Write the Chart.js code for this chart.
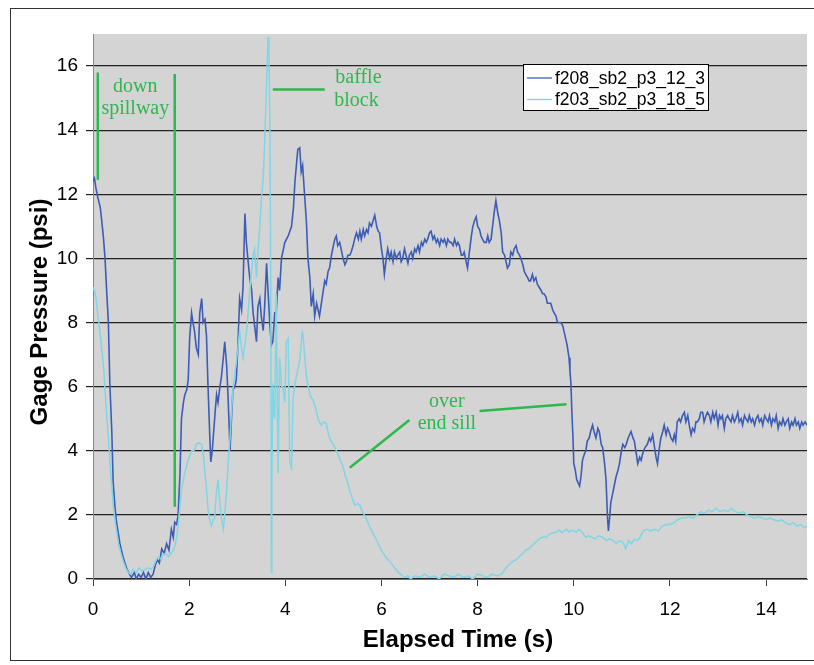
<!DOCTYPE html>
<html><head><meta charset="utf-8">
<script src="https://cdn.jsdelivr.net/npm/chart.js@4.4.1/dist/chart.umd.min.js"></script>
<style>html,body{margin:0;padding:0;background:#fff}#wrap{width:814px;height:665px;position:relative}</style>
</head><body><div id="wrap"><canvas id="c" width="814" height="665"></canvas></div>
<script>
const seriesNames = ['f208_sb2_p3_12_3', 'f203_sb2_p3_18_5'];
const xTitle = 'Elapsed Time (s)';
const yTitle = 'Gage Pressure (psi)';

const timeA = [0.00,0.03,0.06,0.10,0.15,0.18,0.22,0.25,0.28,0.32,0.35,0.39,0.42,0.46,0.49,0.56,0.63,0.70,0.76,0.80,0.86,0.90,0.95,1.00,1.05,1.10,1.15,1.20,1.25,1.30,1.34,1.38,1.43,1.48,1.53,1.58,1.63,1.67,1.70,1.74,1.77,1.81,1.84,1.88,1.91,1.95,1.98,2.01,2.05,2.08,2.11,2.15,2.19,2.22,2.26,2.29,2.33,2.36,2.39,2.43,2.45,2.48,2.50,2.54,2.57,2.60,2.64,2.67,2.71,2.74,2.78,2.81,2.85,2.88,2.91,2.95,2.98,3.02,3.05,3.09,3.12,3.16,3.19,3.22,3.26,3.30,3.33,3.37,3.40,3.43,3.47,3.50,3.54,3.57,3.61,3.64,3.68,3.71,3.74,3.78,3.81,3.85,3.88,3.92,3.99,4.06,4.13,4.17,4.20,4.23,4.26,4.30,4.33,4.36,4.40,4.44,4.47,4.51,4.54,4.58,4.61,4.65,4.68,4.71,4.75,4.78,4.82,4.85,4.89,4.92,4.96,5.00,5.03,5.06,5.09,5.13,5.16,5.20,5.24,5.27,5.30,5.34,5.37,5.41,5.44,5.48,5.52,5.55,5.58,5.62,5.65,5.69,5.72,5.75,5.79,5.83,5.86,5.90,5.93,5.96,6.00,6.03,6.06,6.10,6.13,6.17,6.20,6.24,6.27,6.31,6.34,6.38,6.41,6.44,6.48,6.51,6.55,6.58,6.62,6.65,6.69,6.72,6.76,6.79,6.83,6.86,6.90,6.93,6.96,7.00,7.03,7.07,7.10,7.14,7.17,7.21,7.24,7.28,7.31,7.35,7.38,7.42,7.45,7.49,7.52,7.56,7.59,7.62,7.66,7.69,7.72,7.76,7.79,7.82,7.87,7.90,7.94,7.97,8.00,8.04,8.07,8.10,8.14,8.18,8.21,8.24,8.28,8.31,8.35,8.38,8.42,8.45,8.49,8.52,8.56,8.59,8.62,8.66,8.69,8.73,8.76,8.80,8.83,8.87,8.90,8.94,8.97,9.00,9.04,9.07,9.10,9.14,9.17,9.21,9.24,9.28,9.32,9.35,9.38,9.42,9.45,9.49,9.52,9.56,9.59,9.63,9.66,9.70,9.73,9.77,9.80,9.83,9.86,9.90,9.92,9.94,9.96,9.98,10.00,10.03,10.06,10.09,10.12,10.15,10.18,10.22,10.25,10.28,10.32,10.35,10.39,10.42,10.46,10.50,10.53,10.57,10.60,10.64,10.67,10.70,10.72,10.75,10.77,10.80,10.84,10.88,10.92,10.95,10.99,11.02,11.06,11.09,11.13,11.16,11.19,11.23,11.26,11.30,11.33,11.37,11.40,11.44,11.48,11.53,11.57,11.60,11.64,11.68,11.71,11.74,11.78,11.81,11.85,11.88,11.92,11.95,11.98,12.02,12.06,12.09,12.12,12.15,12.19,12.22,12.26,12.30,12.33,12.37,12.40,12.44,12.47,12.51,12.54,12.57,12.61,12.64,12.68,12.71,12.75,12.78,12.82,12.85,12.89,12.92,12.96,13.00,13.03,13.06,13.09,13.13,13.16,13.20,13.23,13.27,13.30,13.34,13.37,13.41,13.44,13.48,13.51,13.55,13.58,13.62,13.65,13.69,13.72,13.76,13.79,13.83,13.86,13.90,13.93,13.97,14.00,14.04,14.07,14.11,14.14,14.18,14.21,14.25,14.28,14.32,14.35,14.39,14.42,14.46,14.49,14.53,14.56,14.60,14.63,14.67,14.70,14.74,14.77,14.81,14.85];
const pressureA = [12.4,12.5,12.2,11.9,11.6,11.2,10.6,10.0,9.1,8.0,6.1,4.65,3.0,2.2,1.77,1.1,0.66,0.33,0.15,0.05,0.2,0.0,0.15,0.05,0.2,0.0,0.2,0.05,0.15,0.45,0.6,0.5,0.94,0.8,1.1,0.9,1.55,1.3,1.77,1.7,2.0,3.3,5.0,5.5,5.75,5.9,6.2,7.5,8.3,8.0,7.75,7.2,7.0,8.3,8.75,8.0,8.1,7.6,6.1,4.4,3.65,4.0,4.4,5.2,5.75,5.5,6.0,6.3,6.9,7.4,6.65,5.65,4.0,5.0,5.9,6.0,6.2,7.5,8.75,8.4,9.1,11.4,10.5,10.0,9.4,9.0,8.3,7.8,7.4,8.5,8.75,8.2,7.75,8.5,9.85,9.0,7.9,7.3,7.4,8.3,8.3,9.4,9.0,10.0,10.5,10.7,11.0,11.6,12.4,12.9,13.4,13.45,12.7,12.9,12.0,11.1,10.0,9.4,8.5,8.9,8.2,8.6,8.4,8.2,8.6,8.9,9.3,9.2,9.6,9.7,10.1,10.4,10.6,10.7,10.4,10.5,10.3,10.0,9.8,9.9,10.1,10.1,10.2,10.4,10.6,10.8,10.6,10.85,10.6,10.9,10.7,10.9,10.8,11.1,11.0,11.2,11.35,11.0,10.85,10.8,10.3,10.0,9.5,10.0,10.3,10.0,10.2,9.9,10.2,10.0,10.1,10.2,9.9,10.0,10.3,10.1,9.85,10.1,10.2,10.0,10.3,10.2,10.4,10.2,10.5,10.4,10.6,10.5,10.6,10.8,10.85,10.6,10.7,10.5,10.6,10.4,10.6,10.5,10.6,10.4,10.6,10.5,10.5,10.4,10.6,10.4,10.5,10.4,10.1,10.1,10.2,9.9,9.7,10.1,10.7,11.0,11.2,11.3,11.0,10.9,10.7,10.6,10.5,10.5,10.7,10.5,10.6,11.0,11.5,11.8,11.4,11.2,10.8,10.2,10.1,9.9,9.7,9.8,10.2,10.1,10.3,10.4,10.2,10.1,10.0,9.8,9.6,9.5,9.4,9.3,9.3,9.5,9.3,9.4,9.2,9.1,9.0,8.9,8.9,8.8,8.6,8.6,8.6,8.4,8.3,8.2,8.0,8.0,8.0,7.9,7.7,7.5,7.3,6.9,6.5,6.1,5.2,4.5,3.6,3.4,3.1,3.0,2.9,3.2,3.7,3.9,4.0,4.3,4.4,4.6,4.8,4.6,4.4,4.7,4.6,4.2,4.1,3.6,3.1,1.94,1.5,2.0,2.4,2.6,2.9,3.2,3.4,3.6,4.0,4.2,4.1,4.2,4.4,4.5,4.6,4.4,4.3,3.9,3.6,3.8,3.7,3.95,4.1,4.2,4.4,4.3,4.5,4.1,3.8,3.6,4.1,4.4,4.6,4.8,4.5,4.7,4.6,4.4,4.3,4.5,4.3,4.9,5.0,4.9,5.1,5.2,4.9,5.1,4.8,4.5,4.7,4.6,4.9,4.9,5.0,5.2,5.2,4.9,5.1,5.2,5.1,4.9,5.2,5.0,5.2,4.8,5.1,5.0,5.1,4.7,5.0,5.1,5.0,4.9,5.1,4.9,5.0,5.2,4.9,5.0,4.8,5.1,5.0,4.9,5.1,4.9,5.0,4.8,5.0,5.1,4.9,5.0,4.8,5.1,5.0,4.9,5.1,4.8,5.0,4.9,5.1,4.7,4.9,4.8,5.0,4.8,4.9,5.0,4.7,4.9,4.8,5.0,4.8,4.9,4.7,4.9,4.8,4.9,4.8];

const timeB = [0.00,0.03,0.06,0.08,0.12,0.15,0.18,0.22,0.25,0.28,0.32,0.35,0.39,0.42,0.46,0.50,0.53,0.58,0.63,0.68,0.73,0.78,0.84,0.90,0.96,1.02,1.08,1.14,1.20,1.26,1.30,1.34,1.38,1.42,1.46,1.52,1.57,1.63,1.67,1.70,1.74,1.77,1.81,1.84,1.88,1.91,1.95,2.00,2.05,2.10,2.15,2.21,2.26,2.30,2.33,2.36,2.39,2.42,2.46,2.49,2.53,2.56,2.60,2.63,2.67,2.71,2.74,2.78,2.81,2.85,2.88,2.91,2.95,2.98,3.02,3.05,3.09,3.12,3.16,3.19,3.22,3.26,3.30,3.33,3.36,3.40,3.43,3.47,3.50,3.54,3.57,3.61,3.64,3.66,3.68,3.70,3.71,3.72,3.74,3.76,3.78,3.80,3.81,3.83,3.85,3.88,3.90,3.92,3.95,3.99,4.02,4.06,4.09,4.12,4.13,4.16,4.20,4.23,4.27,4.30,4.35,4.37,4.40,4.44,4.48,4.52,4.57,4.62,4.68,4.71,4.75,4.80,4.85,4.90,4.95,5.00,5.06,5.12,5.20,5.25,5.30,5.35,5.41,5.45,5.50,5.55,5.60,5.68,5.75,5.82,5.90,6.00,6.08,6.17,6.25,6.34,6.42,6.48,6.55,6.60,6.70,6.80,6.90,7.00,7.10,7.20,7.30,7.40,7.50,7.60,7.70,7.80,7.90,8.00,8.10,8.20,8.30,8.40,8.50,8.59,8.66,8.73,8.80,8.87,8.94,9.00,9.07,9.14,9.21,9.28,9.35,9.42,9.50,9.56,9.63,9.70,9.75,9.80,9.85,9.90,9.95,10.00,10.05,10.10,10.15,10.20,10.25,10.30,10.38,10.45,10.52,10.60,10.68,10.75,10.82,10.88,10.95,11.02,11.08,11.14,11.20,11.26,11.32,11.38,11.44,11.52,11.60,11.68,11.76,11.84,11.92,12.00,12.08,12.16,12.24,12.32,12.40,12.48,12.56,12.64,12.72,12.80,12.88,12.96,13.04,13.12,13.20,13.28,13.36,13.44,13.52,13.60,13.68,13.76,13.84,13.92,14.00,14.08,14.16,14.24,14.32,14.40,14.48,14.56,14.64,14.72,14.80,14.85];
const pressureB = [9.1,9.0,8.8,8.5,8.0,7.6,7.2,6.6,5.9,5.2,4.4,3.7,2.9,2.3,1.77,1.4,1.1,0.8,0.55,0.35,0.22,0.15,0.3,0.2,0.35,0.25,0.3,0.35,0.3,0.4,0.55,0.66,0.7,0.6,0.78,0.78,0.7,0.8,0.9,1.0,1.3,1.66,2.3,2.77,3.1,3.3,3.54,3.8,4.0,4.0,4.2,4.25,4.2,3.8,3.3,2.8,2.2,1.9,1.66,1.8,1.9,2.6,3.1,2.5,1.9,1.55,2.0,2.77,3.6,4.4,5.2,5.9,6.4,6.75,7.3,7.75,7.2,6.9,7.3,7.65,8.2,9.0,9.6,10.1,10.3,9.4,10.2,11.0,11.8,12.5,13.6,15.5,16.9,16.5,14.0,8.0,0.2,3.0,6.1,5.2,5.0,7.5,8.9,6.0,3.3,6.9,6.6,6.0,6.0,5.5,7.4,7.5,3.7,3.5,3.4,5.6,6.1,6.3,6.6,6.8,7.7,7.6,7.0,6.3,6.0,5.7,5.6,5.4,5.0,4.9,4.8,4.9,4.85,4.5,4.3,4.2,4.0,3.8,3.5,3.2,3.0,2.7,2.44,2.3,2.35,2.3,2.1,1.9,1.65,1.44,1.2,0.89,0.7,0.55,0.4,0.22,0.12,0.05,0.1,0.0,0.1,0.05,0.15,0.05,0.1,0.0,0.15,0.1,0.05,0.15,0.05,0.1,0.0,0.15,0.1,0.05,0.15,0.1,0.15,0.35,0.45,0.55,0.6,0.7,0.8,0.9,0.95,1.05,1.15,1.25,1.3,1.3,1.4,1.44,1.46,1.53,1.45,1.5,1.55,1.46,1.52,1.5,1.45,1.55,1.5,1.4,1.3,1.35,1.3,1.25,1.35,1.3,1.2,1.25,1.2,1.1,1.2,1.15,0.95,1.2,1.1,1.25,1.2,1.3,1.5,1.55,1.5,1.55,1.5,1.65,1.7,1.7,1.75,1.85,1.9,1.9,1.95,1.9,2.0,2.1,2.05,2.15,2.1,2.2,2.1,2.15,2.1,2.2,2.1,2.05,2.1,2.0,1.95,1.9,1.95,1.9,1.85,1.9,1.85,1.8,1.85,1.75,1.7,1.75,1.65,1.7,1.6,1.65];

const xTickValues = [0, 2, 4, 6, 8, 10, 12, 14];
const yTickValues = [0, 2, 4, 6, 8, 10, 12, 14, 16];

// annotation callouts (data units)
const calloutLines = [
  {x1: 0.10, y1: 15.8, x2: 0.10, y2: 12.45},
  {x1: 1.70, y1: 15.75, x2: 1.70, y2: 2.25},
  {x1: 3.74, y1: 15.27, x2: 4.82, y2: 15.27},
  {x1: 5.34, y1: 3.47, x2: 6.58, y2: 4.96},
  {x1: 8.04, y1: 5.24, x2: 9.85, y2: 5.45}
];
const calloutTexts = [
  {text: 'down', x: 0.88, y: 15.37}, {text: 'spillway', x: 0.88, y: 14.68},
  {text: 'baffle', x: 5.52, y: 15.62}, {text: 'block', x: 5.48, y: 14.93},
  {text: 'over', x: 7.36, y: 5.54}, {text: 'end sill', x: 7.36, y: 4.85}
];

const GREEN = '#2db84d';
const DARK = '#3d5db5';
const LIGHT = '#80d6e4';

const bgPlugin = {
  id: 'bg',
  beforeDraw(chart) {
    const c = chart.ctx, a = chart.chartArea;
    c.save();
    c.fillStyle = '#fff';
    c.fillRect(0, 0, chart.width, chart.height);
    c.strokeStyle = '#333';
    c.lineWidth = 1;
    c.strokeRect(10.5, 8.5, 830, 652);
    c.fillStyle = '#d4d4d4';
    c.fillRect(a.left, a.top, a.right - a.left, a.bottom - a.top);
    c.restore();
  }
};

const annotPlugin = {
  id: 'annot',
  afterDatasetsDraw(chart) {
    const c = chart.ctx, xs = chart.scales.x, ys = chart.scales.y;
    c.save();
    c.strokeStyle = GREEN;
    c.lineWidth = 2.5;
    calloutLines.forEach(l => {
      c.beginPath();
      c.moveTo(xs.getPixelForValue(l.x1), ys.getPixelForValue(l.y1));
      c.lineTo(xs.getPixelForValue(l.x2), ys.getPixelForValue(l.y2));
      c.stroke();
    });
    c.fillStyle = GREEN;
    c.font = '20px "Liberation Serif", "DejaVu Serif", serif';
    c.textAlign = 'center';
    c.textBaseline = 'middle';
    calloutTexts.forEach(t => {
      c.fillText(t.text, xs.getPixelForValue(t.x), ys.getPixelForValue(t.y));
    });
    c.restore();
  },
  afterDraw(chart) {
    const c = chart.ctx;
    c.save();
    // axis titles
    c.fillStyle = '#000';
    c.font = 'bold 24px "Liberation Sans", Arial, sans-serif';
    c.textAlign = 'center';
    c.textBaseline = 'middle';
    c.fillText(xTitle, 458, 640);
    c.save();
    c.translate(40, 312);
    c.rotate(-Math.PI / 2);
    c.fillText(yTitle, 0, 0);
    c.restore();
    // legend
    const bx = 523.5, by = 64.5, bw = 185, bh = 46;
    c.fillStyle = '#fff';
    c.fillRect(bx, by, bw, bh);
    c.strokeStyle = '#000';
    c.lineWidth = 1;
    c.strokeRect(bx, by, bw, bh);
    const cols = [DARK, LIGHT];
    c.font = '17.5px "Liberation Sans", Arial, sans-serif';
    c.textBaseline = 'middle';
    c.textAlign = 'left';
    seriesNames.forEach((n, i) => {
      const y = by + 13.5 + i * 21.5;
      c.strokeStyle = cols[i];
      c.lineWidth = 1.3;
      c.beginPath(); c.moveTo(527, y); c.lineTo(552, y); c.stroke();
      c.fillStyle = '#000';
      c.fillText(n, 555, y + 1);
    });
    c.restore();
  }
};

const toPts = (ts, vs) => ts.map((t, i) => ({x: t, y: vs[i]}));

new Chart(document.getElementById('c'), {
  type: 'line',
  data: {
    datasets: [
      {label: seriesNames[0], data: toPts(timeA, pressureA), borderColor: DARK, borderWidth: 1.6, pointRadius: 0, tension: 0, fill: false, order: 1},
      {label: seriesNames[1], data: toPts(timeB, pressureB), borderColor: LIGHT, borderWidth: 1.5, pointRadius: 0, tension: 0, fill: false, order: 0}
    ]
  },
  options: {
    responsive: false, animation: false, devicePixelRatio: 1,
    layout: {padding: {left: 0, top: 34, right: 7, bottom: 0}},
    plugins: {legend: {display: false}, tooltip: {enabled: false}},
    scales: {
      x: {
        type: 'linear', min: 0, max: 14.85,
        afterBuildTicks(s) { s.ticks = xTickValues.map(v => ({value: v})); },
        ticks: {font: {family: 'Liberation Sans', size: 19}, color: '#000', padding: 12, maxRotation: 0},
        grid: {drawOnChartArea: false, drawTicks: true, tickLength: 7, color: '#444'},
        border: {color: '#777', width: 1},
        title: {display: false},
        afterFit(s) { s.height = 86; }
      },
      y: {
        type: 'linear', min: 0, max: 17,
        afterBuildTicks(s) { s.ticks = yTickValues.map(v => ({value: v})); },
        ticks: {font: {family: 'Liberation Sans', size: 19}, color: '#000', padding: 8},
        grid: {color: '#222', lineWidth: 1.2, tickLength: 7},
        border: {color: '#888', width: 1},
        title: {display: false},
        afterFit(s) { s.width = 93; }
      }
    }
  },
  plugins: [bgPlugin, annotPlugin]
});
</script>
</body></html>
